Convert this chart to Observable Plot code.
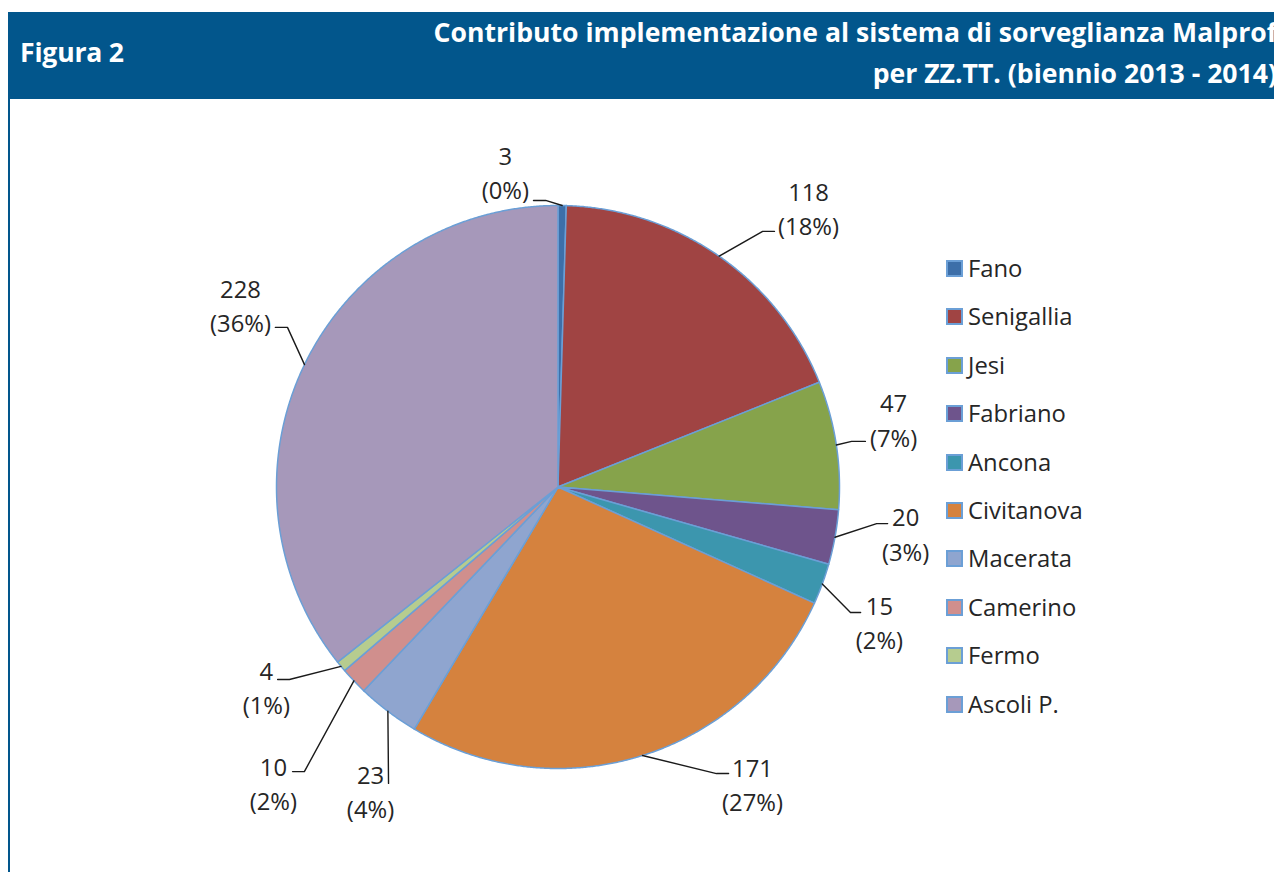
<!DOCTYPE html>
<html><head><meta charset="utf-8">
<script src="https://cdn.jsdelivr.net/npm/d3@7"></script>
<script src="https://cdn.jsdelivr.net/npm/@observablehq/plot@0.6"></script>
<style>
body{margin:0;background:#fff;font-family:"Open Sans",sans-serif;}
#wrap{position:relative;width:1274px;height:872px;overflow:hidden;background:#fff;}
#hdr{position:absolute;left:8px;top:12px;width:1266px;height:87px;background:#02568c;color:#fff;font-weight:700;font-size:26.6px;overflow:hidden;}
#hdr .fig{position:absolute;left:12px;top:22px;white-space:nowrap;letter-spacing:-0.2px;}
#hdr .t1,#hdr .t2{position:absolute;right:-3px;white-space:nowrap;text-align:right;}
#hdr .t1{top:2px;}
#hdr .t2{top:43px;}
#lline{position:absolute;left:8px;top:99px;width:2px;height:780px;background:#02568c;}
#chart{position:absolute;left:0;top:0;}
#legend{position:absolute;left:946px;top:255px;font-size:23.8px;color:#262626;}
#legend .row{height:48.4px;display:flex;align-items:flex-start;white-space:nowrap;}
#legend .sw{width:13px;height:13px;border:2px solid #6b9fd6;margin-top:5px;margin-right:5px;}
</style></head>
<body>
<div id="wrap">
  <div id="chart"></div>
  <div id="hdr">
    <div class="fig">Figura 2</div>
    <div class="t1">Contributo implementazione al sistema di sorveglianza Malprof</div>
    <div class="t2">per ZZ.TT. (biennio 2013 - 2014)</div>
  </div>
  <div id="lline"></div>
  <div id="legend"></div>
</div>
<script>
// ---- data ----
const names = ["Fano","Senigallia","Jesi","Fabriano","Ancona","Civitanova","Macerata","Camerino","Fermo","Ascoli P."];
const values = [3,118,47,20,15,171,23,10,4,228];
const colors = ["#3d6fa9","#a04443","#86a34b","#6e548c","#3c96ae","#d5823e","#8fa5cf","#d08f8d","#b6cc8f","#a698ba"];

// ---- label layout (in pie-radius units: label centre, leader elbow, leader end x) ----
const labelLayout = [
  {lx:-0.187, ly:1.122, ex:-0.044, ey:1.018, hx:-0.087},
  {lx:0.890, ly:0.993, ex:0.727, ey:0.908, hx:0.769},
  {lx:1.192, ly:0.243, ex:1.043, ey:0.162, hx:1.092},
  {lx:1.235, ly:-0.162, ex:1.132, ey:-0.130, hx:1.171},
  {lx:1.142, ly:-0.476, ex:1.039, ey:-0.446, hx:1.075},
  {lx:0.691, ly:-1.053, ex:0.563, ey:-1.018, hx:0.606},
  {lx:-0.666, ly:-1.076, ex:-0.602, ey:-1.053, hx:-0.602},
  {lx:-1.011, ly:-1.048, ex:-0.901, ey:-1.011, hx:-0.943},
  {lx:-1.036, ly:-0.707, ex:-0.954, ey:-0.684, hx:-0.996},
  {lx:-1.128, ly:0.648, ex:-0.961, ey:0.567, hx:-1.004}
];

const total = d3.sum(values);
const arcs = d3.pie().sort(null).startAngle(0).endAngle(2*Math.PI)(values);

// slice polygons
const slicePts = [];
arcs.forEach((a, i) => {
  slicePts.push({name: names[i], x: 0, y: 0});
  const n = Math.max(4, Math.ceil((a.endAngle - a.startAngle) / 0.005));
  for (let k = 0; k <= n; k++) {
    const t = a.startAngle + (a.endAngle - a.startAngle) * k / n;
    slicePts.push({name: names[i], x: Math.sin(t), y: Math.cos(t)});
  }
});

// leader lines and labels
const leaderPts = [];
const labels = [];
arcs.forEach((a, i) => {
  const m = (a.startAngle + a.endAngle) / 2;
  const L = labelLayout[i];
  leaderPts.push({name: names[i], x: Math.sin(m), y: Math.cos(m)});
  leaderPts.push({name: names[i], x: L.ex, y: L.ey});
  leaderPts.push({name: names[i], x: L.hx, y: L.ey});
  labels.push({x: L.lx, y: L.ly, text: `${values[i]}\n(${Math.round(values[i] / total * 100)}%)`});
});

const cx = 557.5, cy = 486.5, r = 281.5;
const plot = Plot.plot({
  width: 1274,
  height: 872,
  margin: 0,
  x: {domain: [-1, 1], range: [cx - r, cx + r], axis: null},
  y: {domain: [-1, 1], range: [cy + r, cy - r], axis: null},
  color: {domain: names, range: colors},
  style: {background: "transparent", fontFamily: "'Open Sans', sans-serif"},
  marks: [
    Plot.line(slicePts, {x: "x", y: "y", z: "name", fill: "name", stroke: "#6b9fd6", strokeWidth: 1.5, curve: "linear-closed"}),
    Plot.line(leaderPts, {x: "x", y: "y", z: "name", stroke: "#1a1a1a", strokeWidth: 1.4}),
    Plot.text(labels, {x: "x", y: "y", text: "text", fontSize: 23.8, lineHeight: 1.43, fill: "#262626"})
  ]
});
document.getElementById("chart").appendChild(plot);

// legend
const leg = document.getElementById("legend");
names.forEach((n, i) => {
  const row = document.createElement("div");
  row.className = "row";
  const sw = document.createElement("div");
  sw.className = "sw";
  sw.style.background = colors[i];
  const tx = document.createElement("span");
  tx.textContent = n;
  tx.style.lineHeight = "26px";
  row.appendChild(sw); row.appendChild(tx);
  leg.appendChild(row);
});
</script>
</body></html>
